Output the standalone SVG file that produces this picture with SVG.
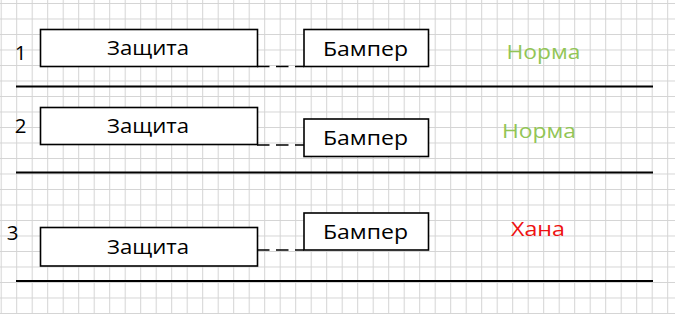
<svg xmlns="http://www.w3.org/2000/svg" width="675" height="314" viewBox="0 0 675 314">
  <defs>
    <pattern id="grid" x="0.7" y="3" width="15.5" height="15.5" patternUnits="userSpaceOnUse">
      <path d="M0 0.5H15.5M0.5 0V15.5" fill="none" stroke="#d4d4d4" stroke-width="1"/>
    </pattern>
  </defs>
  <style>
    .box { fill: #ffffff; stroke: #000000; stroke-width: 1.6; }
    .lbl { font-family: "Open Sans", "Liberation Sans", sans-serif; font-size: 20.5px; fill: #000000; text-anchor: middle; }
    .ok { font-family: "Open Sans", "Liberation Sans", sans-serif; font-size: 20.5px; fill: #92c556; text-anchor: middle; }
    .bad { font-family: "Open Sans", "Liberation Sans", sans-serif; font-size: 20.5px; fill: #ee1111; text-anchor: middle; }
    .sep { stroke: #000000; stroke-width: 2; fill: none; }
    .conn { stroke: #000000; stroke-width: 1.6; fill: none; stroke-dasharray: 12.5 6.5; }
  </style>
  <rect x="0" y="0" width="675" height="314" fill="#ffffff"/>
  <rect x="0" y="0" width="675" height="314" fill="url(#grid)"/>

  <g id="separators">
    <line class="sep" x1="16" y1="86.5" x2="653" y2="86.5"/>
    <line class="sep" x1="16" y1="172.5" x2="653" y2="172.5"/>
    <line class="sep" x1="16" y1="281" x2="653" y2="281"/>
  </g>

  <g id="connectors">
    <line class="conn" x1="257" y1="66.5" x2="304" y2="66.5"/>
    <line class="conn" x1="257" y1="145" x2="304" y2="145"/>
    <line class="conn" x1="257" y1="250" x2="304" y2="250"/>
  </g>

  <g id="row-numbers">
    <text class="lbl" x="20.5" y="60">1</text>
    <text class="lbl" x="20.5" y="133">2</text>
    <text class="lbl" x="12.5" y="240">3</text>
  </g>

  <g id="zashchita-1">
    <rect class="box" x="40.5" y="29.5" width="217" height="37"/>
    <text class="lbl" x="148" y="55" textLength="82" lengthAdjust="spacingAndGlyphs">Защита</text>
  </g>
  <g id="bamper-1">
    <rect class="box" x="304" y="29.5" width="124.5" height="37"/>
    <text class="lbl" x="365.5" y="56" textLength="85" lengthAdjust="spacingAndGlyphs">Бампер</text>
  </g>
  <g id="status-1">
    <text class="ok" x="543.5" y="59" textLength="74" lengthAdjust="spacingAndGlyphs">Норма</text>
  </g>

  <g id="zashchita-2">
    <rect class="box" x="40.5" y="107.5" width="217" height="37"/>
    <text class="lbl" x="148" y="133" textLength="82" lengthAdjust="spacingAndGlyphs">Защита</text>
  </g>
  <g id="bamper-2">
    <rect class="box" x="304" y="119" width="124.5" height="37.5"/>
    <text class="lbl" x="365.5" y="145" textLength="85" lengthAdjust="spacingAndGlyphs">Бампер</text>
  </g>
  <g id="status-2">
    <text class="ok" x="539" y="138" textLength="74" lengthAdjust="spacingAndGlyphs">Норма</text>
  </g>

  <g id="zashchita-3">
    <rect class="box" x="40.5" y="227.5" width="217" height="38.5"/>
    <text class="lbl" x="148" y="254" textLength="82" lengthAdjust="spacingAndGlyphs">Защита</text>
  </g>
  <g id="bamper-3">
    <rect class="box" x="304" y="213" width="124.5" height="37"/>
    <text class="lbl" x="365.5" y="239" textLength="85" lengthAdjust="spacingAndGlyphs">Бампер</text>
  </g>
  <g id="status-3">
    <text class="bad" x="538" y="236" textLength="54" lengthAdjust="spacingAndGlyphs">Хана</text>
  </g>
</svg>
